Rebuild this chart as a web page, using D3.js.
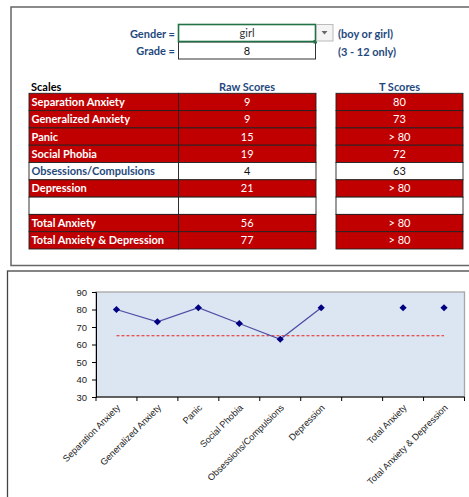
<!DOCTYPE html>
<html>
<head>
<meta charset="utf-8">
<script src="https://d3js.org/d3.v7.min.js"></script>
<style>
  body { margin: 0; background: #fff; }
  svg { display: block; }
</style>
</head>
<body>
<div id="chart"></div>
<script>
// sheet inputs
const gender = "girl";
const grade = "8";

// scale table
const scales = ["Separation Anxiety", "Generalized Anxiety", "Panic", "Social Phobia",
  "Obsessions/Compulsions", "Depression", "", "Total Anxiety", "Total Anxiety & Depression"];
const rawScores = ["9", "9", "15", "19", "4", "21", "", "56", "77"];
const tScores = ["80", "73", "> 80", "72", "63", "> 80", "", "> 80", "> 80"];
const elevated = [true, true, true, true, false, true, false, true, true];

// plotted T scores (>80 is drawn just above 80)
const lineValues = [80, 73, 81, 72, 63, 81, null, null, null];
const totalValues = [null, null, null, null, null, null, null, 81, 81];
const cutoff = 65;
const yTicks = [30, 40, 50, 60, 70, 80, 90];

const width = 469, height = 497;
const navy = "#1F497D", red = "#C00000";
const cellFont = "Lato, 'Open Sans', sans-serif";

const svg = d3.select("#chart").append("svg")
  .attr("width", width).attr("height", height);

// ---------- top panel (spreadsheet) ----------
svg.append("rect").attr("x", 11).attr("y", 7).attr("width", 470).attr("height", 258.5)
  .attr("fill", "#fff").attr("stroke", "#666").attr("stroke-width", 1.5);

let inputs = svg.append("g").style("font-family", cellFont).style("font-size", "11px");

inputs.append("text").attr("x", 175).attr("y", 37.5).attr("text-anchor", "end")
  .attr("font-weight", "bold").attr("fill", navy).text("Gender =");
inputs.append("text").attr("x", 175).attr("y", 55).attr("text-anchor", "end")
  .attr("font-weight", "bold").attr("fill", navy).text("Grade =");

inputs.append("rect").attr("x", 178.5).attr("y", 42).attr("width", 137).attr("height", 17)
  .attr("fill", "#fff").attr("stroke", "#333").attr("stroke-width", 1);
inputs.append("rect").attr("x", 178.5).attr("y", 24.5).attr("width", 137).attr("height", 17)
  .attr("fill", "#fff").attr("stroke", "#217346").attr("stroke-width", 1.6);
inputs.append("rect").attr("x", 313.5).attr("y", 40).attr("width", 3.5).attr("height", 3.5)
  .attr("fill", "#217346");
inputs.append("text").attr("x", 247).attr("y", 37).attr("text-anchor", "middle")
  .attr("fill", "#333").text(gender);
inputs.append("text").attr("x", 247).attr("y", 55).attr("text-anchor", "middle")
  .attr("fill", "#111").text(grade);

// dropdown button
inputs.append("rect").attr("x", 316.5).attr("y", 24.5).attr("width", 16.5).attr("height", 16.5)
  .attr("fill", "#f4f4f4").attr("stroke", "#bbb");
inputs.append("path").attr("d", "M321.5,31 L327.5,31 L324.5,34.5 Z").attr("fill", "#666");

inputs.append("text").attr("x", 338).attr("y", 37.5).attr("font-weight", "bold")
  .attr("fill", navy).text("(boy or girl)");
inputs.append("text").attr("x", 338).attr("y", 55.5).attr("font-weight", "bold")
  .attr("fill", navy).text("(3 - 12 only)");

// table
const rowY = d3.scaleBand().domain(d3.range(scales.length)).range([93.3, 249]);
const cols = [
  { x0: 29, x1: 178.5, key: "name", anchor: "start" },
  { x0: 178.5, x1: 316, key: "raw", anchor: "middle" },
  { x0: 336, x1: 463, key: "t", anchor: "middle" }
];
const rows = scales.map((s, i) => ({ name: s, raw: rawScores[i], t: tScores[i], hi: elevated[i] }));

let table = svg.append("g").style("font-family", cellFont).style("font-size", "11px")
  .attr("font-weight", "bold");

table.append("text").attr("x", 31).attr("y", 90.5).attr("fill", "#000").text("Scales");
table.append("text").attr("x", 247).attr("y", 90.5).attr("text-anchor", "middle")
  .attr("fill", navy).text("Raw Scores");
table.append("text").attr("x", 399.5).attr("y", 90.5).attr("text-anchor", "middle")
  .attr("fill", navy).text("T Scores");

cols.forEach(c => {
  let g = table.append("g");
  g.selectAll("rect").data(rows).join("rect")
    .attr("x", c.x0).attr("y", (d, i) => rowY(i))
    .attr("width", c.x1 - c.x0).attr("height", rowY.bandwidth())
    .attr("fill", d => d.hi ? red : "#fff")
    .attr("stroke", "#222").attr("stroke-width", 0.9);
  g.selectAll("text").data(rows).join("text")
    .attr("x", c.anchor === "start" ? c.x0 + 2.5 : (c.x0 + c.x1) / 2)
    .attr("y", (d, i) => rowY(i) + rowY.bandwidth() / 2 + 4)
    .attr("text-anchor", c.anchor)
    .attr("font-weight", c.key === "name" ? "bold" : "normal")
    .attr("fill", d => d.hi ? "#fff" : (c.key === "name" ? navy : "#111"))
    .text(d => d[c.key]);
});

// ---------- bottom panel (chart) ----------
svg.append("rect").attr("x", 7.5).attr("y", 271).attr("width", 470).attr("height", 240)
  .attr("fill", "#fff").attr("stroke", "#444").attr("stroke-width", 1.3);

const margin = { left: 96, right: 464.5, top: 292, bottom: 397 };

const x = d3.scaleBand().domain(d3.range(scales.length))
  .range([margin.left, margin.right]);
const y = d3.scaleLinear().domain([30, 90]).range([margin.bottom, margin.top]);

let plot = svg.append("g");
plot.append("rect").attr("x", margin.left).attr("y", margin.top)
  .attr("width", margin.right - margin.left).attr("height", margin.bottom - margin.top)
  .attr("fill", "#DCE6F2").attr("stroke", "#a6a6a6").attr("stroke-width", 1.3);

// y axis
let gy = plot.append("g").attr("transform", `translate(${margin.left},0)`)
  .call(d3.axisLeft(y).tickValues(yTicks).tickSize(4).tickPadding(5));
gy.select(".domain").attr("stroke", "#000");
gy.selectAll("text").style("font-family", "'Liberation Sans', Arial, sans-serif")
  .style("font-size", "9.5px").attr("fill", "#222");

// x axis: ticks on category boundaries
let gx = plot.append("g").attr("transform", `translate(0,${margin.bottom})`);
gx.append("line").attr("x1", margin.left).attr("x2", margin.right)
  .attr("stroke", "#000").attr("stroke-width", 1.2);
gx.selectAll("line.tick").data(d3.range(scales.length + 1)).join("line")
  .attr("class", "tick")
  .attr("x1", d => margin.left + d * x.step()).attr("x2", d => margin.left + d * x.step())
  .attr("y1", 0).attr("y2", 4).attr("stroke", "#000");
gx.selectAll("text").data(scales).join("text")
  .attr("transform", (d, i) => `translate(${x(i) + x.bandwidth() / 2 + 2},${9}) rotate(-45)`)
  .attr("text-anchor", "end").attr("dy", "0.35em")
  .style("font-family", "'Liberation Sans', Arial, sans-serif").style("font-size", "9.2px")
  .attr("fill", "#222").text(d => d);

const cx = i => x(i) + x.bandwidth() / 2;

// cutoff line
plot.append("line")
  .attr("x1", cx(0)).attr("x2", cx(scales.length - 1))
  .attr("y1", y(cutoff)).attr("y2", y(cutoff))
  .attr("stroke", "#E8201C").attr("stroke-width", 1).attr("stroke-dasharray", "3,2");

// scale line
const line = d3.line().defined(d => d != null).x((d, i) => cx(i)).y(d => y(d));
plot.append("path").datum(lineValues).attr("d", line)
  .attr("fill", "none").attr("stroke", "#4E4EA6").attr("stroke-width", 1.3);

// square markers turned 45 degrees
const marker = d3.symbol().type(d3.symbolSquare).size(26);
const pts = lineValues.map((v, i) => ({ v: v != null ? v : totalValues[i], i }))
  .filter(d => d.v != null);
plot.selectAll("path.pt").data(pts).join("path")
  .attr("class", "pt")
  .attr("transform", d => `translate(${cx(d.i)},${y(d.v)}) rotate(45)`)
  .attr("d", marker).attr("fill", "#000080");
</script>
</body>
</html>
